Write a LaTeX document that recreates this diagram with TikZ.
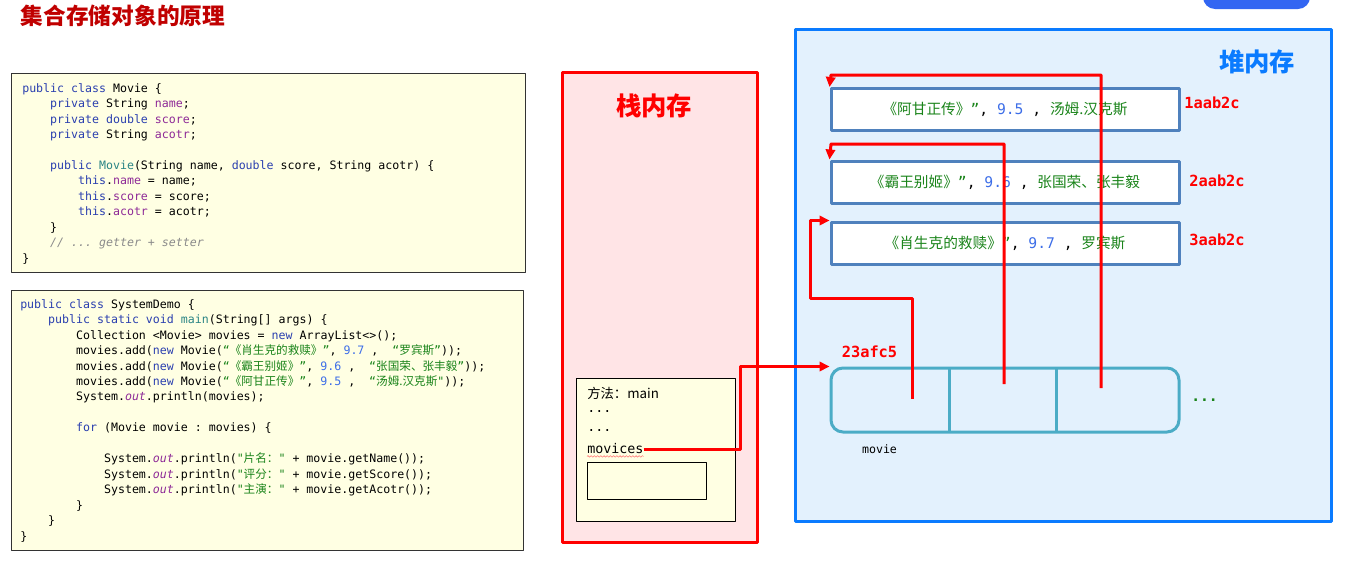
\documentclass[tikz,border=0pt]{standalone}
\usepackage{fontspec}
\setmonofont{DejaVu Sans Mono}
\newfontfamily\cjk{Noto Sans CJK SC}
\usetikzlibrary{arrows.meta,positioning,decorations.pathmorphing}
\definecolor{kwblue}{HTML}{2A3FAF}
\definecolor{fldpurple}{HTML}{8E2A97}
\definecolor{mthteal}{HTML}{2B8585}
\definecolor{strgreen}{HTML}{1A841A}
\definecolor{numblue}{HTML}{3D6EE8}
\definecolor{cmtgray}{HTML}{8A8A8A}
\definecolor{codebg}{HTML}{FFFFE3}
\definecolor{stackbg}{HTML}{FFE4E6}
\definecolor{heapbg}{HTML}{E3F1FD}
\definecolor{heapblue}{HTML}{0A7BFF}
\definecolor{objblue}{HTML}{4F81BD}
\definecolor{arrcyan}{HTML}{4BACC6}
\definecolor{titlered}{HTML}{C00000}
\definecolor{ptrred}{HTML}{FF0000}
\definecolor{btnblue}{HTML}{3366F2}
\newcommand\kw[1]{\textcolor{kwblue}{#1}}
\newcommand\fd[1]{\textcolor{fldpurple}{#1}}
\newcommand\mt[1]{\textcolor{mthteal}{#1}}
\newcommand\js[1]{\textcolor{strgreen}{#1}}
\newcommand\jn[1]{\textcolor{numblue}{#1}}
\newcommand\jout{\textcolor{fldpurple}{\itshape out}}
\newcommand\zh[1]{{\cjk #1}}
\newcommand\tb{\phantom{0000}}
\tikzset{
  code/.style={font=\ttfamily\fontsize{8.7}{11.6}\selectfont,align=left,inner sep=0pt,anchor=north west},
  codebox/.style={draw=black!80,line width=0.6pt,fill=codebg},
  objbox/.style={draw=objblue,line width=2.25pt,fill=white,minimum width=261pt,minimum height=31.5pt,inner sep=0pt,
    font=\cjk\fontsize{11}{12}\selectfont},
  addr/.style={text=ptrred,font=\ttfamily\bfseries\fontsize{11.5}{12}\selectfont,inner sep=0pt},
  ptr/.style={draw=ptrred,line width=2.25pt,-{Triangle[length=7.5pt,width=7pt]}}
}
\begin{document}
\begin{tikzpicture}[x=0.75pt,y=-0.75pt,line join=round]
  \useasboundingbox (0,0) rectangle (1352,578);
  \fill[btnblue,rounded corners=9pt] (1203,-20) rectangle (1310,9);
  \node[text=titlered,font=\cjk\bfseries\fontsize{17}{20}\selectfont,inner sep=0pt] (title) at (123,16) {集合存储对象的原理};

  \draw[codebox] (11,73) rectangle (525,272);
  \node[code] (moviesrc) at (22,83) {%
\kw{public class} Movie \{\\
\tb\kw{private} String \fd{name};\\
\tb\kw{private double} \fd{score};\\
\tb\kw{private} String \fd{acotr};\\[11.6pt]
\tb\kw{public} \mt{Movie}(String name, \kw{double} score, String acotr) \{\\
\tb\tb\kw{this}.\fd{name} = name;\\
\tb\tb\kw{this}.\fd{score} = score;\\
\tb\tb\kw{this}.\fd{acotr} = acotr;\\
\tb\}\\
\tb\textcolor{cmtgray}{\itshape // ... getter + setter}\\
\}};

  \draw[codebox] (11,290) rectangle (523,550);
  \node[code] (demosrc) at (20,299) {%
\kw{public class} SystemDemo \{\\
\tb\kw{public static void} \mt{main}(String[] args) \{\\
\tb\tb Collection <Movie> movies = \kw{new} ArrayList<>();\\
\tb\tb movies.add(\kw{new} Movie(\js{“\zh{《肖生克的救赎》}”}, \jn{9.7} ,\ \ \js{“\zh{罗宾斯}”}));\\
\tb\tb movies.add(\kw{new} Movie(\js{“\zh{《霸王别姬》}”}, \jn{9.6} ,\ \ \js{“\zh{张国荣、张丰毅}”}));\\
\tb\tb movies.add(\kw{new} Movie(\js{“\zh{《阿甘正传》}”}, \jn{9.5} ,\ \ \js{“\zh{汤姆.汉克斯}"}));\\
\tb\tb System.\jout.println(movies);\\[11.6pt]
\tb\tb\kw{for} (Movie movie : movies) \{\\[11.6pt]
\tb\tb\tb System.\jout.println(\js{"\zh{片名：}"} + movie.getName());\\
\tb\tb\tb System.\jout.println(\js{"\zh{评分：}"} + movie.getScore());\\
\tb\tb\tb System.\jout.println(\js{"\zh{主演：}"} + movie.getAcotr());\\
\tb\tb\}\\
\tb\}\\
\}};

  \node[draw=ptrred,line width=2.25pt,fill=stackbg,minimum width=146.25pt,minimum height=352.5pt] (stack) at (660,307.5) {};
  \node[text=ptrred,font=\cjk\bfseries\fontsize{19}{22}\selectfont,inner sep=0pt] (stacktitle) at (654,106) {栈内存};
  \node[draw=black,line width=0.75pt,fill=codebg,minimum width=118.9pt,minimum height=106.9pt] (mainframe) at (656.25,450.25) {};
  \node[draw=black,line width=0.75pt,fill=codebg,minimum width=88.9pt,minimum height=27.75pt] (slot) at (647.25,480.5) {};
  \node[anchor=west,inner sep=0pt,font=\cjk\fontsize{10}{12}\selectfont] (method) at (587,393) {方法：main};
  \node[anchor=west,inner sep=0pt,font=\ttfamily\fontsize{10}{12}\selectfont] (dots1) at (587,412) {...};
  \node[anchor=west,inner sep=0pt,font=\ttfamily\fontsize{10}{12}\selectfont] (dots2) at (587,431) {...};
  \node[anchor=west,inner sep=0pt,font=\ttfamily\fontsize{10}{12}\selectfont] (movvar) at (587,449) {movices};
  \draw[ptrred!55,line width=0.4pt,decorate,decoration={snake,amplitude=0.6pt,segment length=2.4pt}]
    ([yshift=-1.5pt]movvar.south west) -- ([yshift=-1.5pt]movvar.south east);

  \node[draw=heapblue,line width=2.25pt,fill=heapbg,minimum width=402pt,minimum height=369pt] (heap) at (1063,275) {};
  \node[text=heapblue,font=\cjk\bfseries\fontsize{19}{22}\selectfont,inner sep=0pt] (heaptitle) at (1257,62) {堆内存};

  \node[objbox] (obj1) at (1005,109.5) {\js{《阿甘正传》}{\ttfamily\js{”}, \jn{9.5} , }\js{汤姆.汉克斯}};
  \node[objbox] (obj2) at (1005,182) {\js{《霸王别姬》}{\ttfamily\js{”}, \jn{9.6} , }\js{张国荣、张丰毅}};
  \node[objbox] (obj3) at (1005,243) {\js{《肖生克的救赎》}{\ttfamily\js{”}, \jn{9.7} , }\js{罗宾斯}};
  \node[addr] (addr1) at (1212,103) {1aab2c};
  \node[addr] (addr2) at (1217,181) {2aab2c};
  \node[addr] (addr3) at (1217,240) {3aab2c};

  \node[draw=arrcyan,line width=2.25pt,rounded corners=9pt,minimum width=261pt,minimum height=48pt] (movielist) at (1005,400) {};
  \draw[arrcyan,line width=2.25pt] (949,368) -- (949,432) (1056,368) -- (1056,432);
  \node[addr] (listaddr) at (869.5,352) {23afc5};
  \node[inner sep=0pt,font=\ttfamily\fontsize{8.7}{10}\selectfont] (listname) at (879.5,449) {movie};
  \node[inner sep=0pt,text=strgreen,font=\ttfamily\bfseries\fontsize{11}{11}\selectfont] (more) at (1204.5,400) {...};

  \coordinate (bend) at (740,0);
  \coordinate (cell1) at (912,399);
  \coordinate (cell2) at (1004,384);
  \coordinate (cell3) at (1101,388);
  \coordinate (turn1) at (810,298);
  \coordinate (hook2) at (831,144);
  \coordinate (hook1) at (831,75);
  \draw[ptr] (movvar.east) -| (bend |- movielist.north west) -- (movielist.north west);
  \draw[ptr] (cell1) |- (turn1) |- (obj3.north west);
  \draw[ptr] (cell2) |- (hook2) -- (obj2.north west);
  \draw[ptr] (cell3) |- (hook1) -- (obj1.north west);
\end{tikzpicture}
\end{document}
